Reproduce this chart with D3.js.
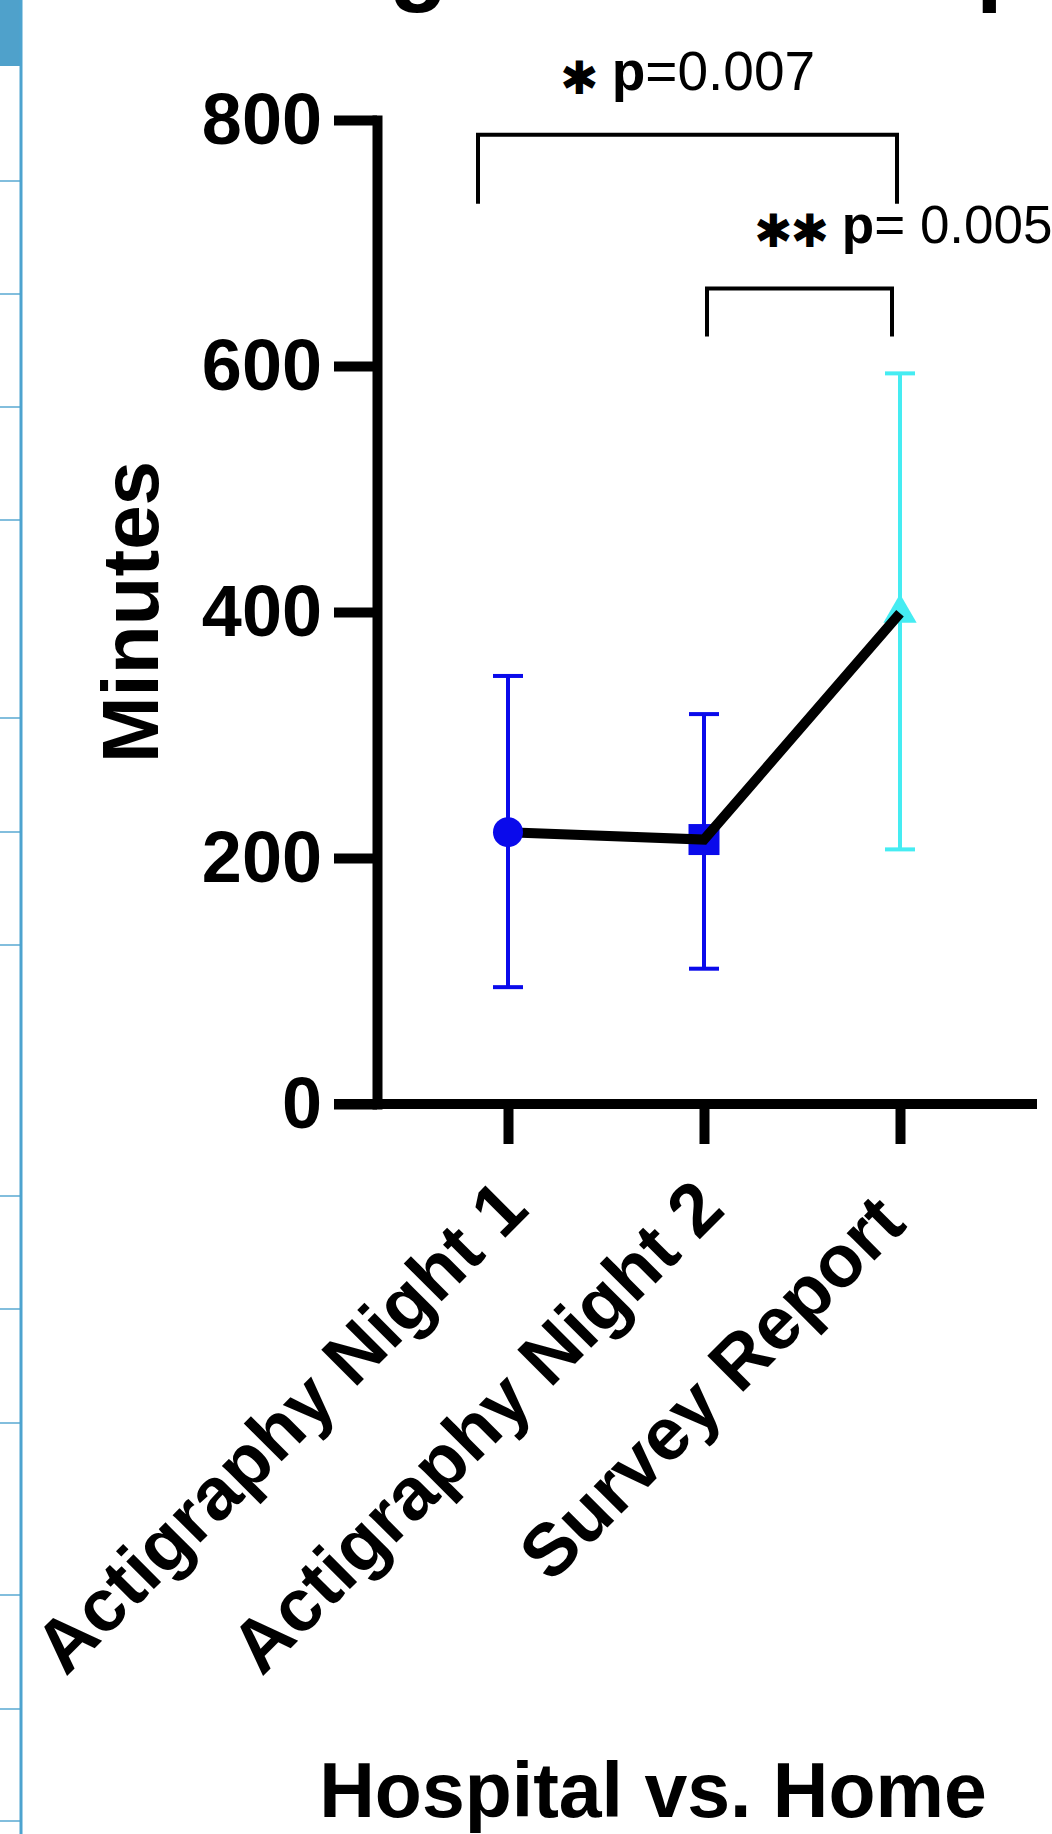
<!DOCTYPE html>
<html><head><meta charset="utf-8">
<script src="https://cdn.jsdelivr.net/npm/d3@7"></script>
<style>html,body{margin:0;padding:0;background:#fff;} text{white-space:pre;}</style>
</head><body>
<script>
// ---- data ----
const categories = ["Actigraphy Night 1", "Actigraphy Night 2", "Survey Report "];
const means = [221, 215, 399];
const errUpper = [348, 317, 594];
const errLower = [95, 110, 207];
const markerShapes = ["circle", "square", "triangle"];
const markerColors = ["#0A0AEB", "#0A0AEB", "#45ECF2"];
const yTicks = [0, 200, 400, 600, 800];
const compPairs = [[0, 2], [1, 2]];
const compStars = ["\u2731", "\u2731\u2731"];
const compP = ["p=0.007", "p= 0.005"];
const compTop = [788, 663];
const compLeg = [732, 624];
const yLabel = "Minutes";
const xTitle = "Hospital vs. Home";
const chartTitle = "Average Total Sleep";

const W = 1052, H = 1834;
const svg = d3.select("body").append("svg").attr("width", W).attr("height", H)
  .style("display", "block").style("font-family", "'Liberation Sans', Arial, sans-serif");
svg.append("rect").attr("width", W).attr("height", H).attr("fill", "#fff");

// ---- left-edge decoration (slide pane) ----
const deco = svg.append("g");
const decoLines = [181, 294, 407, 520, 718, 832, 945, 1196, 1309, 1423, 1595, 1709, 1821];
deco.selectAll("line.h").data(decoLines).join("line")
  .attr("x1", 0).attr("x2", 21).attr("y1", d => d).attr("y2", d => d)
  .attr("stroke", "#58A8D2").attr("stroke-width", 1.5);
deco.append("rect").attr("x", 0).attr("y", 0).attr("width", 22).attr("height", 66).attr("fill", "#4FA1CB");
deco.append("line").attr("x1", 21).attr("x2", 21).attr("y1", 0).attr("y2", H)
  .attr("stroke", "#4DA3CF").attr("stroke-width", 3);

// ---- title (cut off at top, only descenders visible) ----
const title = svg.append("text").attr("x", 126).attr("y", -7)
  .attr("font-size", 96).attr("font-weight", "bold").attr("fill", "#000").text(chartTitle);
(function fitTitle() {
  const n = title.node();
  const gi = chartTitle.indexOf("g"), pi = chartTitle.lastIndexOf("p");
  let gx = n.getStartPositionOfChar(gi).x, px = n.getStartPositionOfChar(pi).x;
  if (px - gx > 10) {
    const fs = 96 * 587 / (px - gx);
    title.attr("font-size", fs);
    gx = n.getStartPositionOfChar(gi).x;
    title.attr("x", 126 + (389 - gx)).attr("y", 13 - 0.21 * fs);
  }
})();

// ---- scales ----
const x = d3.scalePoint().domain(categories).range([508, 900]);
const y = d3.scaleLinear().domain([0, 800]).range([1104, 120]);

// ---- y axis ----
const yAxis = svg.append("g").attr("transform", "translate(377,0)")
  .call(d3.axisLeft(y).tickValues(yTicks).tickSize(43).tickSizeOuter(0).tickPadding(12).tickFormat(d3.format("d")));
yAxis.select(".domain").attr("stroke", "#000").attr("stroke-width", 10).attr("stroke-linecap", "square");
yAxis.selectAll(".tick line").attr("stroke", "#000").attr("stroke-width", 10);
yAxis.selectAll(".tick text").attr("font-size", 72).attr("font-weight", "bold").attr("fill", "#000")
  .attr("font-family", "'Liberation Sans', Arial, sans-serif");

// ---- x axis ----
const xAxisG = svg.append("g").attr("transform", "translate(0," + y(0) + ")");
xAxisG.append("line").attr("x1", 334).attr("x2", 1037).attr("y1", 0).attr("y2", 0)
  .attr("stroke", "#000").attr("stroke-width", 10);
xAxisG.call(d3.axisBottom(x).tickSize(40).tickSizeOuter(0).tickFormat(""));
xAxisG.select(".domain").remove();
xAxisG.selectAll(".tick line").attr("stroke", "#000").attr("stroke-width", 10);

svg.append("g").selectAll("text").data(categories).join("text")
  .attr("transform", d => "translate(" + (x(d) + 23) + ",1212) rotate(-45)")
  .attr("xml:space", "preserve")
  .attr("text-anchor", "end").attr("font-size", 74).attr("font-weight", "bold").attr("fill", "#000")
  .text(d => d);

// ---- axis titles ----
svg.append("text").attr("transform", "translate(158," + y(400) + ") rotate(-90)")
  .attr("text-anchor", "middle").attr("font-size", 80).attr("font-weight", "bold").text(yLabel);
svg.append("text").attr("x", 653).attr("y", 1817).attr("text-anchor", "middle")
  .attr("font-size", 77).attr("font-weight", "bold").text(xTitle);

// ---- error bars ----
const eb = svg.append("g").selectAll("g").data(categories).join("g");
eb.append("line").attr("x1", d => x(d)).attr("x2", d => x(d))
  .attr("y1", (d, i) => y(errUpper[i])).attr("y2", (d, i) => y(errLower[i]))
  .attr("stroke", (d, i) => markerColors[i]).attr("stroke-width", 4);
eb.append("line").attr("x1", d => x(d) - 15).attr("x2", d => x(d) + 15)
  .attr("y1", (d, i) => y(errUpper[i])).attr("y2", (d, i) => y(errUpper[i]))
  .attr("stroke", (d, i) => markerColors[i]).attr("stroke-width", 4);
eb.append("line").attr("x1", d => x(d) - 15).attr("x2", d => x(d) + 15)
  .attr("y1", (d, i) => y(errLower[i])).attr("y2", (d, i) => y(errLower[i]))
  .attr("stroke", (d, i) => markerColors[i]).attr("stroke-width", 4);

// ---- markers + line ----
const symType = { circle: d3.symbolCircle, square: d3.symbolSquare, triangle: d3.symbolTriangle };
const symSize = { circle: 707, square: 961, triangle: 480 };
const markerData = categories.map((c, i) => ({ c, v: means[i], shape: markerShapes[i], color: markerColors[i], i }));
function drawMarkers(sel) {
  sel.append("path")
    .attr("transform", d => "translate(" + x(d.c) + "," + y(d.v) + ")")
    .attr("d", d => d3.symbol().type(symType[d.shape]).size(symSize[d.shape])())
    .attr("fill", d => d.color);
}
svg.append("g").selectAll("g").data(markerData.filter(d => d.i > 0)).join("g").call(drawMarkers);
svg.append("path").datum(markerData)
  .attr("d", d3.line().x(d => x(d.c)).y(d => y(d.v)))
  .attr("fill", "none").attr("stroke", "#000").attr("stroke-width", 10);
svg.append("g").selectAll("g").data(markerData.filter(d => d.i === 0)).join("g").call(drawMarkers);

// ---- significance brackets ----
const legOff = [[-30, -3], [3, -8]];
const brG = svg.append("g");
compPairs.forEach((p, k) => {
  const x1 = x(categories[p[0]]) + legOff[k][0];
  const x2 = x(categories[p[1]]) + legOff[k][1];
  brG.append("path")
    .attr("d", "M" + x1 + "," + y(compLeg[k]) + "V" + y(compTop[k]) + "H" + x2 + "V" + y(compLeg[k]))
    .attr("fill", "none").attr("stroke", "#000").attr("stroke-width", 4);
});
function pLabel(t, k) {
  t.append("tspan").attr("font-family", "'DejaVu Sans'").attr("font-size", 46)
    .attr("letter-spacing", -2).attr("dy", 4).text(compStars[k]);
  t.append("tspan").attr("dy", -4).text(" ");
  t.append("tspan").attr("font-weight", "bold").text(compP[k].slice(0, 1));
  t.append("tspan").text(compP[k].slice(1));
}
const t1 = brG.append("text").attr("x", (x(categories[0]) - 30 + x(categories[2]) - 3) / 2).attr("y", 90)
  .attr("text-anchor", "middle").attr("font-size", 55).attr("fill", "#000");
pLabel(t1, 0);
const t2 = brG.append("text").attr("x", x(categories[1]) + 50).attr("y", 243)
  .attr("text-anchor", "start").attr("font-size", 53).attr("fill", "#000");
pLabel(t2, 1);
</script>
</body></html>
